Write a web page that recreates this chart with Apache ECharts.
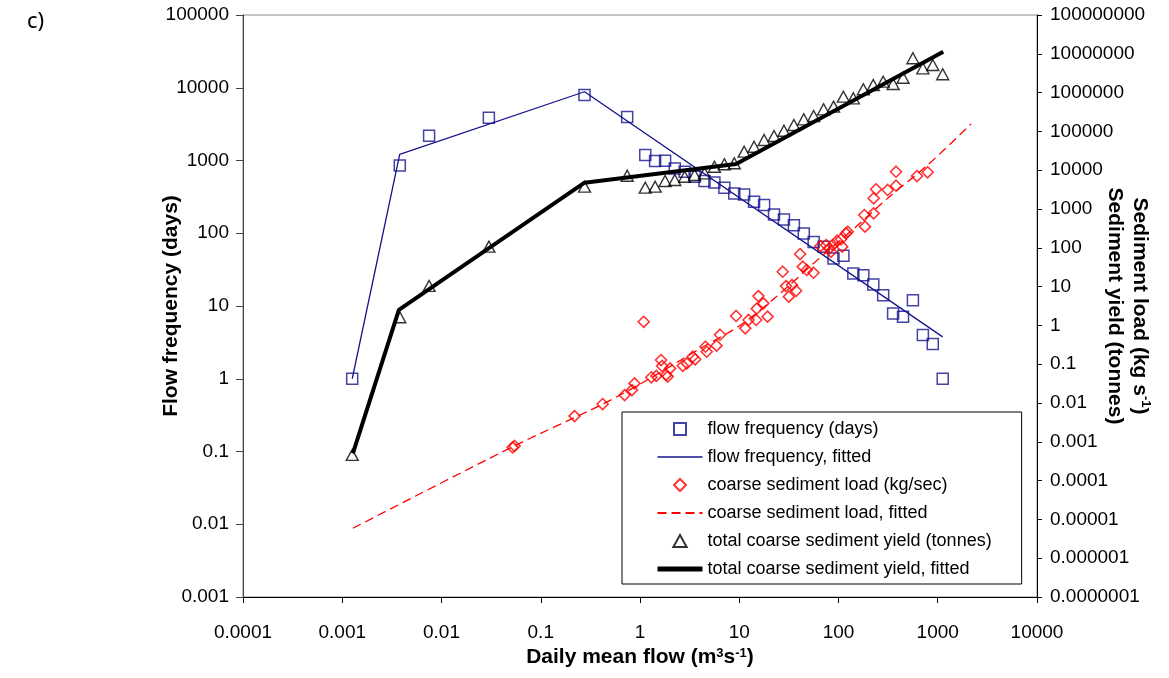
<!DOCTYPE html>
<html>
<head>
<meta charset="utf-8">
<title>Flow frequency and coarse sediment load</title>
<script src="https://cdn.jsdelivr.net/npm/echarts@6/dist/echarts.min.js"></script>
<style>
  html, body { margin: 0; padding: 0; background: #fff; }
  #chart { width: 1169px; height: 678px; }
</style>
</head>
<body>
<div id="chart"></div>
<script>
// tick labels
const xTickLabels = ['0.0001', '0.001', '0.01', '0.1', '1', '10', '100', '1000', '10000'];
const leftTickLabels = ['0.001', '0.01', '0.1', '1', '10', '100', '1000', '10000', '100000'];
const rightTickLabels = ['0.0000001', '0.000001', '0.00001', '0.0001', '0.001', '0.01', '0.1',
  '1', '10', '100', '1000', '10000', '100000', '1000000', '10000000', '100000000'];

// daily mean flow bins (m3/s), shared by frequency and yield
const flowBins = [0.00126, 0.0038, 0.0075, 0.030, 0.276, 0.743, 1.13, 1.42, 1.79, 2.24, 2.82,
  3.55, 4.47, 5.62, 7.08, 8.91, 11.2, 14.1, 17.8, 22.4, 28.2, 35.5, 44.7, 56.2, 70.8, 89.1,
  112, 141, 178, 224, 282, 355, 447, 562, 708, 891, 1122];
const flowFreqDays = [1, 855, 2190, 3860, 7940, 3950, 1186, 981, 990, 778, 700,
  597, 521, 500, 421, 352, 342, 270, 244, 181, 155, 129, 99, 76, 65, 45,
  49, 28, 26.5, 19.8, 14.1, 7.9, 7.1, 12, 4, 3, 1];
const sedYieldTonnes = [0.00046, 1.62, 10.4, 107, 3760, 7210, 3540, 3760, 5270, 5590, 6790,
  7510, 8310, 12300, 14200, 15100, 30000, 40300, 60000, 76000, 104000, 146000, 205000, 250000, 371000, 434000,
  784000, 713000, 1220000, 1570000, 1910000, 1670000, 2420000, 7660000, 4230000, 5140000, 2970000];

// fitted flow frequency
const freqFitFlow = [0.00126, 0.00379, 0.276, 1120];
const freqFitDays = [1, 1213, 8810, 3.76];

// fitted total yield
const yieldFitFlow = [0.00128, 0.00372, 0.276, 9.3, 1137];
const yieldFitTonnes = [0.000506, 2.5, 4760, 14450, 11300000];

// coarse sediment load samples
const loadFlow = [0.052, 0.0545, 0.219, 0.42, 0.70, 0.83, 0.88, 1.09, 1.30, 1.46,
  1.63, 1.67, 1.83, 1.90, 2.01, 2.70, 2.97, 3.40, 3.60, 4.57,
  4.70, 5.90, 6.40, 9.3, 11.5, 12.4, 14.8, 15.0, 15.6, 17.5,
  19.3, 27.4, 29.6, 31.6, 34, 37.4, 41, 43.6, 47.9, 56,
  65.8, 75, 81, 84, 87.5, 96.8, 106, 109, 119, 124,
  182, 185, 226, 226, 239, 313, 380, 380, 618, 791];
const loadKgS = [0.00072, 0.00078, 0.0046, 0.0094, 0.016, 0.0216, 0.032, 1.24, 0.046, 0.050,
  0.128, 0.090, 0.053, 0.048, 0.078, 0.091, 0.105, 0.156, 0.134, 0.282,
  0.21, 0.30, 0.575, 1.75, 0.84, 1.38, 1.38, 2.7, 5.7, 3.7,
  1.68, 24.2, 10.3, 5.5, 11, 7.8, 69, 32.6, 26.8, 22.8,
  111, 118, 97, 79, 118, 152, 166, 107, 236, 260,
  700, 350, 774, 1890, 3220, 3090, 3980, 9140, 7080, 8830];

// fitted load curve
const loadFitFlow = [0.00128, 0.0524, 0.422, 1.30, 3.97, 10.0, 21.6, 66.8, 150, 326, 791, 2163];
const loadFitKgS = [0.0000059, 0.00075, 0.0094, 0.0449, 0.247, 0.966, 4.5, 59, 350, 2075, 13600, 155000];

const pairs = (xs, ys) => xs.map((x, i) => [x, ys[i]]);
const expOf = v => Math.round(Math.log10(v));

const FONT = "'Liberation Sans', Arial, sans-serif";
const NAVY = '#14148c';
const RED = '#ff0000';

let myChart = echarts.init(document.getElementById('chart'), null, { renderer: 'canvas' });

// line-only legend entries: hide the symbol, keep the line
const lineOnly = (name, width) => ({ name: name, itemStyle: { opacity: 0 }, lineStyle: { width: width } });

let option = {
  animation: false,
  textStyle: { fontFamily: FONT },
  graphic: [{
    type: 'text', left: 27, top: 11,
    style: { text: 'c)', fontSize: 22, fontFamily: "'Noto Sans', sans-serif", fill: '#000' }
  }],
  grid: {
    left: 243, right: 132, top: 15, bottom: 81,
    containLabel: false, outerBoundsMode: 'none',
    show: true, borderColor: '#8a8a8a', borderWidth: 1
  },
  legend: {
    orient: 'vertical',
    left: 622, top: 412,
    padding: [8, 30, 6, 33],
    itemWidth: 45, itemHeight: 12, itemGap: 10,
    backgroundColor: '#fff', borderColor: '#000', borderWidth: 1,
    textStyle: { fontSize: 18, color: '#000', fontFamily: FONT },
    data: [
      { name: 'flow frequency (days)', icon: 'path://M0,0L10,0L10,10L0,10Z' },
      lineOnly('flow frequency, fitted', 1.5),
      { name: 'coarse sediment load (kg/sec)', icon: 'path://M5,0L10,5L5,10L0,5Z' },
      lineOnly('coarse sediment load, fitted', 2),
      { name: 'total coarse sediment yield (tonnes)', icon: 'path://M5,0L10,9L0,9Z' },
      lineOnly('total coarse sediment yield, fitted', 5)
    ]
  },
  xAxis: {
    type: 'log', logBase: 10, min: 0.0001, max: 10000,
    axisLine: { lineStyle: { color: '#000', width: 1 } },
    axisTick: { length: 6, lineStyle: { color: '#000' } },
    splitLine: { show: false },
    axisLabel: {
      margin: 26, fontSize: 19, color: '#000', fontFamily: FONT,
      formatter: v => xTickLabels[expOf(v) + 4]
    },
    name: 'Daily mean flow (m{sup|3}s{sup|-1})',
    nameLocation: 'middle', nameGap: 50, nameMoveOverlap: false,
    nameTextStyle: {
      fontSize: 21, fontWeight: 'bold', color: '#000', fontFamily: FONT,
      rich: { sup: { fontSize: 13, fontWeight: 'bold', verticalAlign: 'top', color: '#000' } }
    }
  },
  yAxis: [{
    type: 'log', logBase: 10, min: 0.001, max: 100000,
    position: 'left',
    axisLine: { show: true, lineStyle: { color: '#444', width: 1 } },
    axisTick: { show: true, length: 7, lineStyle: { color: '#444' } },
    splitLine: { show: false },
    axisLabel: {
      margin: 14, fontSize: 19, color: '#000', fontFamily: FONT,
      formatter: v => leftTickLabels[expOf(v) + 3]
    },
    name: 'Flow frequency (days)',
    nameLocation: 'middle', nameGap: 61, nameRotate: 90, nameMoveOverlap: false,
    nameTextStyle: { fontSize: 21, fontWeight: 'bold', color: '#000', fontFamily: FONT }
  }, {
    type: 'log', logBase: 10, min: 0.0000001, max: 100000000, interval: 1,
    position: 'right',
    axisLine: { show: true, lineStyle: { color: '#000', width: 1 } },
    axisTick: { show: true, length: 5, lineStyle: { color: '#000' } },
    splitLine: { show: false },
    axisLabel: {
      margin: 13, fontSize: 19, color: '#000', fontFamily: FONT,
      formatter: v => rightTickLabels[expOf(v) + 7]
    },
    name: 'Sediment load (kg s{sup|-1})\nSediment yield (tonnes)',
    nameLocation: 'middle', nameGap: 65, nameRotate: -90, nameMoveOverlap: false,
    nameTextStyle: {
      fontSize: 21, fontWeight: 'bold', color: '#000', fontFamily: FONT, lineHeight: 25,
      rich: { sup: { fontSize: 13, fontWeight: 'bold', verticalAlign: 'top', color: '#000' } }
    }
  }],
  series: [{
    name: 'flow frequency (days)',
    type: 'scatter', yAxisIndex: 0,
    symbol: 'rect', symbolSize: 11,
    itemStyle: { color: 'rgba(255,255,255,0)', borderColor: NAVY, borderWidth: 1.5 },
    data: pairs(flowBins, flowFreqDays)
  }, {
    name: 'flow frequency, fitted',
    type: 'line', yAxisIndex: 0, symbol: 'none',
    itemStyle: { color: NAVY },
    lineStyle: { color: NAVY, width: 1.3 },
    data: pairs(freqFitFlow, freqFitDays)
  }, {
    name: 'coarse sediment load (kg/sec)',
    type: 'scatter', yAxisIndex: 1,
    symbol: 'diamond', symbolSize: 11,
    itemStyle: { color: 'rgba(255,255,255,0)', borderColor: RED, borderWidth: 1.6 },
    data: pairs(loadFlow, loadKgS)
  }, {
    name: 'coarse sediment load, fitted',
    type: 'line', yAxisIndex: 1, symbol: 'none', smooth: 0.3,
    itemStyle: { color: RED },
    lineStyle: { color: RED, width: 1.3, type: [9, 5] },
    data: pairs(loadFitFlow, loadFitKgS)
  }, {
    name: 'total coarse sediment yield (tonnes)',
    type: 'scatter', yAxisIndex: 1,
    symbol: 'triangle', symbolSize: [12, 11],
    itemStyle: { color: 'rgba(255,255,255,0)', borderColor: '#000', borderWidth: 1.4 },
    data: pairs(flowBins, sedYieldTonnes)
  }, {
    name: 'total coarse sediment yield, fitted',
    type: 'line', yAxisIndex: 1, symbol: 'none',
    itemStyle: { color: '#000' },
    lineStyle: { color: '#000', width: 4 },
    data: pairs(yieldFitFlow, yieldFitTonnes)
  }]
};

myChart.setOption(option);
</script>
</body>
</html>
